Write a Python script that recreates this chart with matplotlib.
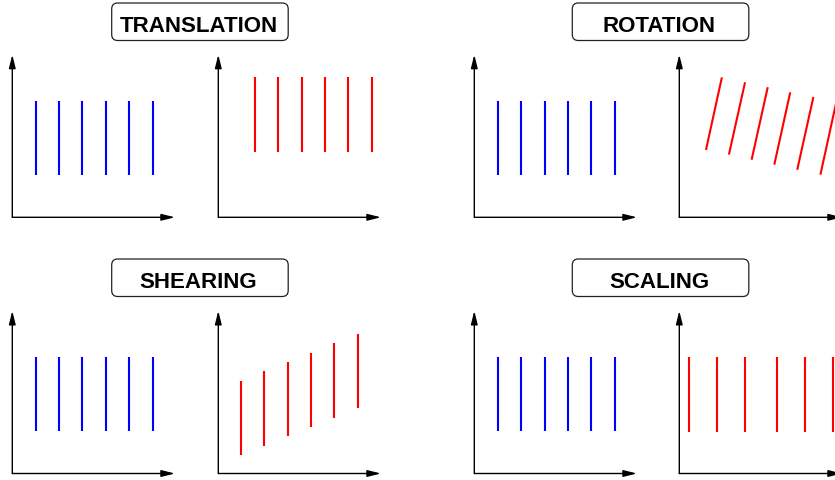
import matplotlib
matplotlib.use("Agg")
import matplotlib.pyplot as plt
from matplotlib.patches import FancyBboxPatch

W, H = 835, 481
UNIT = 23.4      # pixels per data unit inside each small diagram
AX_LEN = 6.95    # length of the drawn axes, in data units

# original set of lines (blue), same in every panel
blue_x0 = [1.0, 2.0, 3.0, 4.0, 5.0, 6.0]
blue_x1 = [1.0, 2.0, 3.0, 4.0, 5.0, 6.0]
blue_y0 = [1.8, 1.8, 1.8, 1.8, 1.8, 1.8]
blue_y1 = [4.97, 4.97, 4.97, 4.97, 4.97, 4.97]

# translated lines
trans_x0 = [1.57, 2.55, 3.58, 4.56, 5.54, 6.57]
trans_x1 = [1.57, 2.55, 3.58, 4.56, 5.54, 6.57]
trans_y0 = [2.79, 2.79, 2.79, 2.79, 2.79, 2.79]
trans_y1 = [5.98, 5.98, 5.98, 5.98, 5.98, 5.98]

# rotated lines
rot_x0 = [1.14, 2.12, 3.09, 4.06, 5.04, 6.03]
rot_x1 = [1.82, 2.81, 3.78, 4.74, 5.73, 6.71]
rot_y0 = [2.88, 2.68, 2.46, 2.25, 2.03, 1.82]
rot_y1 = [5.98, 5.77, 5.56, 5.34, 5.14, 4.93]

# sheared lines
shear_x0 = [0.97, 1.95, 2.98, 3.96, 4.94, 5.97]
shear_x1 = [0.97, 1.95, 2.98, 3.96, 4.94, 5.97]
shear_y0 = [0.79, 1.18, 1.59, 1.99, 2.38, 2.79]
shear_y1 = [3.95, 4.37, 4.76, 5.16, 5.56, 5.96]

# scaled lines
scale_x0 = [0.40, 1.60, 2.79, 4.19, 5.38, 6.58]
scale_x1 = [0.40, 1.60, 2.79, 4.19, 5.38, 6.58]
scale_y0 = [1.78, 1.78, 1.78, 1.78, 1.78, 1.78]
scale_y1 = [4.97, 4.97, 4.97, 4.97, 4.97, 4.97]

titles = ["TRANSLATION", "ROTATION", "SHEARING", "SCALING"]
red_sets = [
    (trans_x0, trans_y0, trans_x1, trans_y1),
    (rot_x0, rot_y0, rot_x1, rot_y1),
    (shear_x0, shear_y0, shear_x1, shear_y1),
    (scale_x0, scale_y0, scale_x1, scale_y1),
]

# layout (pixels): title box top-left, and origins of the two diagrams
box_pos = [(111.7, 4), (572.3, 4), (111.7, 260), (572.3, 260)]
origins = [
    ((12.3, 218.3), (218.3, 218.3)),
    ((474.3, 218.3), (679.3, 218.3)),
    ((12.3, 474.5), (218.3, 474.5)),
    ((474.3, 474.5), (679.3, 474.5)),
]
BOX_W, BOX_H = 176.5, 37.5


def draw_diagram(fig, origin, x0, y0, x1, y1, color):
    ox, oy = origin
    size = AX_LEN * UNIT
    ax = fig.add_axes([ox / W, 1 - oy / H, size / W, size / H])
    ax.set_xlim(0, AX_LEN)
    ax.set_ylim(0, AX_LEN)
    ax.axis("off")
    for a, b, c, d in zip(x0, y0, x1, y1):
        ax.plot([a, c], [b, d], color=color, lw=1.5,
                solid_capstyle="butt", clip_on=False)
    style = "-|>,head_length=0.8,head_width=0.2"
    for tip in [(AX_LEN, 0), (0, AX_LEN)]:
        ax.annotate("", xy=tip, xytext=(0, 0), annotation_clip=False,
                    arrowprops=dict(arrowstyle=style, color="black", lw=1.0,
                                    shrinkA=0, shrinkB=0))


def main():
    fig = plt.figure(figsize=(W / 100, H / 100), dpi=100)

    over = fig.add_axes([0, 0, 1, 1])
    over.set_xlim(0, W)
    over.set_ylim(H, 0)
    over.axis("off")

    for i, title in enumerate(titles):
        bx, by = box_pos[i]
        box = FancyBboxPatch((bx, by), BOX_W, BOX_H,
                             boxstyle="round,pad=0,rounding_size=6",
                             facecolor="white", edgecolor="#222222", lw=0.9)
        over.add_patch(box)
        over.text(bx + BOX_W / 2 - 1.5, by + 28.2, title, ha="center",
                  va="baseline", fontsize=16, fontweight="bold",
                  family="Liberation Sans", color="black")

        left, right = origins[i]
        draw_diagram(fig, left, blue_x0, blue_y0, blue_x1, blue_y1, "#0000ff")
        rx0, ry0, rx1, ry1 = red_sets[i]
        draw_diagram(fig, right, rx0, ry0, rx1, ry1, "#ff0000")

    fig.savefig("out.png", dpi=100)


if __name__ == "__main__":
    main()
